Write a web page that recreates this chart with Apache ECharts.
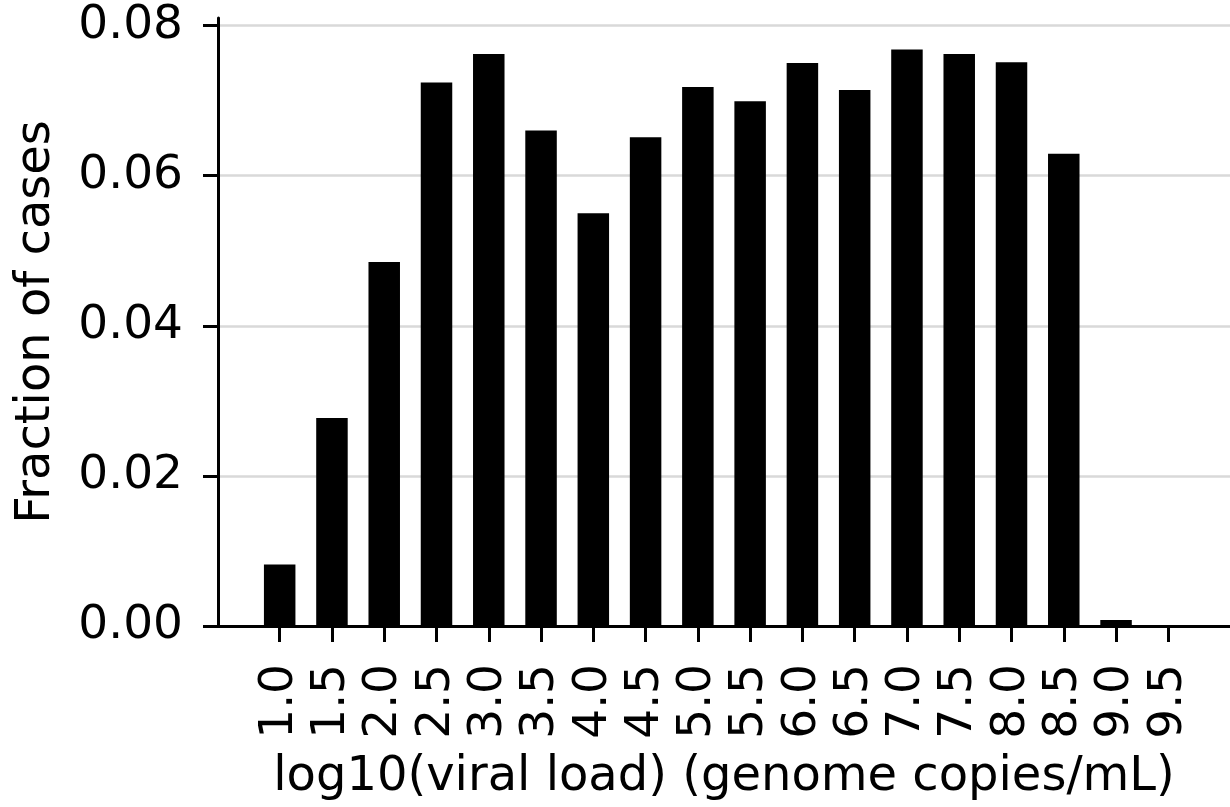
<!DOCTYPE html>
<html>
<head>
<meta charset="utf-8">
<script src="https://cdn.jsdelivr.net/npm/echarts@6/dist/echarts.min.js"></script>
<style>
  html, body { margin: 0; padding: 0; background: #fff; }
  #chart { width: 1230px; height: 807px; }
</style>
</head>
<body>
<div id="chart"></div>
<script type="text/javascript">
// bin centres of log10(viral load)
var loadBins = [1.0, 1.5, 2.0, 2.5, 3.0, 3.5, 4.0, 4.5, 5.0, 5.5, 6.0, 6.5, 7.0, 7.5, 8.0, 8.5, 9.0, 9.5];
// fraction of cases per bin
var caseFraction = [0.0082, 0.0277, 0.0485, 0.0724, 0.0762, 0.0660, 0.0550, 0.0651, 0.0718, 0.0699,
                    0.0750, 0.0714, 0.0768, 0.0762, 0.0751, 0.0629, 0.0008, 0.0];
var yTicks = [0, 0.02, 0.04, 0.06, 0.08];

var font = 'DejaVu Sans';
var barData = [];
for (var i = 0; i < loadBins.length; i++) {
  barData.push([loadBins[i], caseFraction[i]]);
}

var chart = echarts.init(document.getElementById('chart'));
var option = {
  animation: false,
  backgroundColor: '#fff',
  grid: {
    left: 218,
    right: -5,
    top: 18,
    bottom: 178
  },
  xAxis: {
    type: 'value',
    min: 0.41,
    max: 10.09,
    name: 'log10(viral load) (genome copies/mL)',
    nameLocation: 'middle',
    nameGap: 128,
    nameTextStyle: { fontFamily: font, fontSize: 48, color: '#000' },
    axisLine: { show: true, onZero: false, lineStyle: { color: '#000', width: 3 } },
    axisTick: { show: true, length: 16, lineStyle: { color: '#000', width: 3 }, customValues: loadBins },
    axisLabel: {
      customValues: loadBins,
      rotate: 90,
      margin: 38,
      fontFamily: font,
      fontSize: 47,
      color: '#000',
      formatter: function (v) { return v.toFixed(1); }
    },
    splitLine: { show: false }
  },
  yAxis: {
    type: 'value',
    min: 0,
    max: 0.081,
    name: 'Fraction of cases',
    nameLocation: 'middle',
    nameGap: 157,
    nameTextStyle: { fontFamily: font, fontSize: 48, color: '#000' },
    axisLine: { show: true, lineStyle: { color: '#000', width: 3 } },
    axisTick: { show: true, length: 15, lineStyle: { color: '#000', width: 3 }, customValues: yTicks },
    axisLabel: {
      customValues: yTicks,
      margin: 35,
      fontFamily: font,
      fontSize: 47,
      color: '#000',
      formatter: function (v) { return v.toFixed(2); }
    },
    splitLine: { show: true, lineStyle: { color: '#d9d9d9', width: 2.5 } }
  },
  series: [{
    type: 'bar',
    data: barData,
    barWidth: 31.5,
    itemStyle: { color: '#000' },
    z: 3
  }]
};
chart.setOption(option);
</script>
</body>
</html>
